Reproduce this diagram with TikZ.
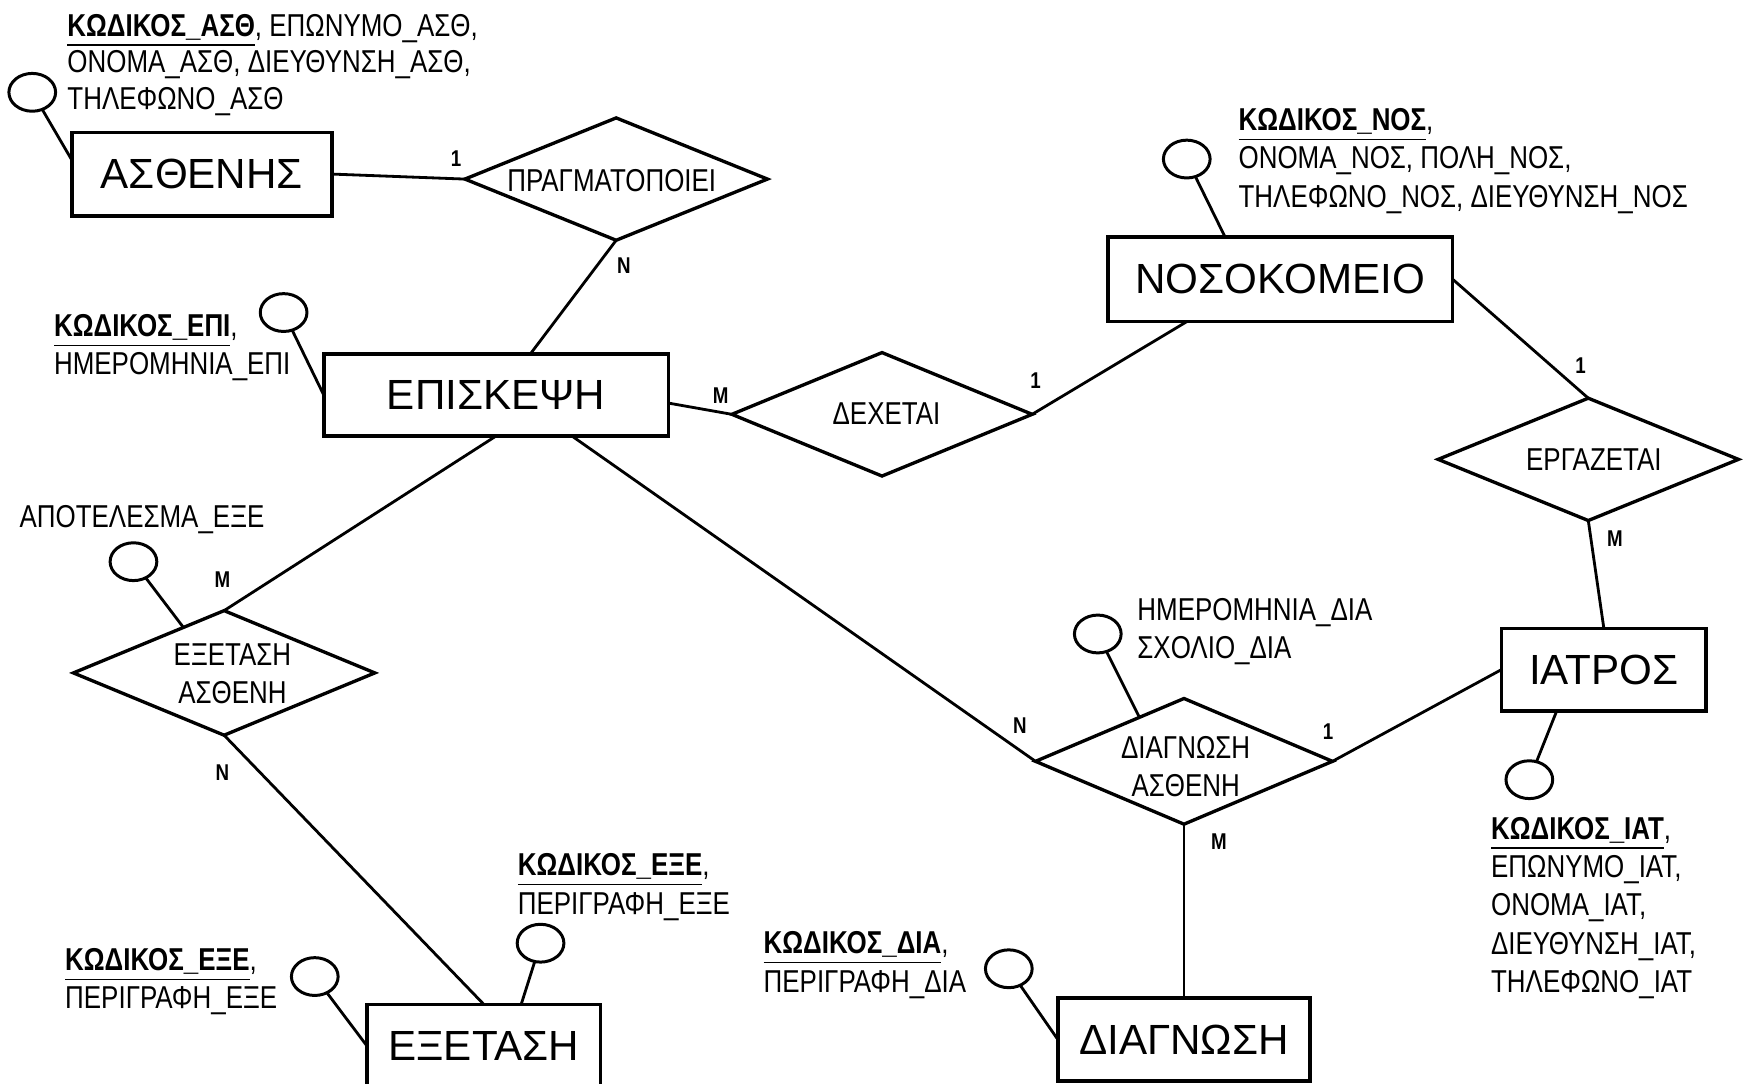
\documentclass[tikz,border=0pt]{standalone}
\usepackage{fontspec}
\setmainfont{Liberation Sans}
\newfontfamily\narrowfont[FakeStretch=0.82]{Liberation Sans}
\usetikzlibrary{shapes.geometric,calc}
% one drawing unit
\newcommand\pxu{0.31646pt}
\newcommand\keyattr[1]{\underline{\bfseries #1}}

\begin{document}
\begin{tikzpicture}[x=\pxu, y=-\pxu,
  entity/.style={draw, line width=1.05pt, rectangle, inner sep=0pt, outer sep=0pt,
    font=\fontsize{12}{14}\selectfont},
  relation/.style={draw, line width=0.95pt, diamond, inner sep=0pt, outer sep=0pt},
  attrib/.style={draw, line width=0.85pt, ellipse, inner sep=0pt, outer sep=0pt,
    minimum width=42*\pxu, minimum height=34*\pxu},
  link/.style={line width=0.8pt},
  attrtext/.style={anchor=north west, inner sep=0pt, align=left,
    font=\narrowfont\fontsize{9}{10.9}\selectfont},
  reltext/.style={inner sep=0pt, align=center,
    font=\narrowfont\fontsize{9}{10.9}\selectfont},
  card/.style={inner sep=0pt, font=\narrowfont\bfseries\fontsize{6.5}{7}\selectfont},
]
\useasboundingbox (0,0) rectangle (1568,974);
\clip (0,0) rectangle (1568,974);

% entities
\node[entity, minimum width=234*\pxu, minimum height=75*\pxu] (asth) at (181.5,156.5) {ΑΣΘΕΝΗΣ};
\node[entity, minimum width=310*\pxu, minimum height=74*\pxu] (episk) at (446,355) {ΕΠΙΣΚΕΨΗ};
\node[entity, minimum width=310*\pxu, minimum height=76*\pxu] (noso) at (1151,251) {ΝΟΣΟΚΟΜΕΙΟ};
\node[entity, minimum width=184*\pxu, minimum height=74*\pxu] (iatr) at (1442,602) {ΙΑΤΡΟΣ};
\node[entity, minimum width=227*\pxu, minimum height=75*\pxu] (diagn) at (1064.5,934.5) {ΔΙΑΓΝΩΣΗ};
\node[entity, minimum width=210*\pxu, minimum height=75*\pxu] (exet) at (435,940.5) {ΕΞΕΤΑΣΗ};

% relationships
\node[relation, minimum width=272*\pxu, minimum height=110*\pxu] (pragm) at (554,161) {};
\node[relation, minimum width=270*\pxu, minimum height=111*\pxu] (dex) at (793,372.5) {};
\node[relation, minimum width=270*\pxu, minimum height=110*\pxu] (erg) at (1428,413) {};
\node[relation, minimum width=271*\pxu, minimum height=112*\pxu] (exa) at (201.5,605) {};
\node[relation, minimum width=267*\pxu, minimum height=113*\pxu] (diag) at (1064.5,684.5) {};

\node[reltext] (tPragm) at (550,162) {ΠΡΑΓΜΑΤΟΠΟΙΕΙ};
\node[reltext] (tDex) at (797,372) {ΔΕΧΕΤΑΙ};
\node[reltext] (tErg) at (1433,413) {ΕΡΓΑΖΕΤΑΙ};
\node[reltext] (tExa) at (209,605.5) {ΕΞΕΤΑΣΗ\\ΑΣΘΕΝΗ};
\node[reltext] (tDiag) at (1066,689.5) {ΔΙΑΓΝΩΣΗ\\ΑΣΘΕΝΗ};

% attribute markers
\node[attrib] (aAsth) at (29,83) {};
\node[attrib] (aEpi) at (255,281) {};
\node[attrib] (aNoso) at (1067,143) {};
\node[attrib] (aIat) at (1375,701) {};
\node[attrib] (aDiagRel) at (987,570) {};
\node[attrib] (aDiagn) at (907,871) {};
\node[attrib] (aExa) at (120,505) {};
\node[attrib] (aExet1) at (283,878) {};
\node[attrib] (aExet2) at (486,848) {};

% attribute lists
\node[attrtext, font=\narrowfont\fontsize{9}{10.45}\selectfont] (tAsth) at (60,12) {\keyattr{ΚΩΔΙΚΟΣ\_ΑΣΘ}, ΕΠΩΝΥΜΟ\_ΑΣΘ,\\ΟΝΟΜΑ\_ΑΣΘ, ΔΙΕΥΘΥΝΣΗ\_ΑΣΘ,\\ΤΗΛΕΦΩΝΟ\_ΑΣΘ};
\node[attrtext] (tEpi) at (48,282) {\keyattr{ΚΩΔΙΚΟΣ\_ΕΠΙ},\\ΗΜΕΡΟΜΗΝΙΑ\_ΕΠΙ};
\node[attrtext] (tNoso) at (1113,97) {\keyattr{ΚΩΔΙΚΟΣ\_ΝΟΣ},\\ΟΝΟΜΑ\_ΝΟΣ, ΠΟΛΗ\_ΝΟΣ,\\ΤΗΛΕΦΩΝΟ\_ΝΟΣ, ΔΙΕΥΘΥΝΣΗ\_ΝΟΣ};
\node[attrtext] (tIat) at (1340,734) {\keyattr{ΚΩΔΙΚΟΣ\_ΙΑΤ},\\ΕΠΩΝΥΜΟ\_ΙΑΤ,\\ΟΝΟΜΑ\_ΙΑΤ,\\ΔΙΕΥΘΥΝΣΗ\_ΙΑΤ,\\ΤΗΛΕΦΩΝΟ\_ΙΑΤ};
\node[attrtext] (tDiagRel) at (1022,537) {ΗΜΕΡΟΜΗΝΙΑ\_ΔΙΑ\\ΣΧΟΛΙΟ\_ΔΙΑ};
\node[attrtext] (tDiagn) at (686,837) {\keyattr{ΚΩΔΙΚΟΣ\_ΔΙΑ},\\ΠΕΡΙΓΡΑΦΗ\_ΔΙΑ};
\node[attrtext] (tExa) at (17,454) {ΑΠΟΤΕΛΕΣΜΑ\_ΕΞΕ};
\node[attrtext] (tExet1) at (58,852) {\keyattr{ΚΩΔΙΚΟΣ\_ΕΞΕ},\\ΠΕΡΙΓΡΑΦΗ\_ΕΞΕ};
\node[attrtext] (tExet2) at (465,767) {\keyattr{ΚΩΔΙΚΟΣ\_ΕΞΕ},\\ΠΕΡΙΓΡΑΦΗ\_ΕΞΕ};

% connectors
\draw[link] (aAsth) -- ($(asth.north west)!0.33!(asth.south west)$);
\draw[link] (asth.east) -- (pragm.west);
\draw[link] (pragm.south) -- ($(episk.north west)!0.6!(episk.north east)$);
\draw[link] (aEpi) -- (episk.west);
\draw[link] ($(episk.north east)!0.6!(episk.south east)$) -- (dex.west);
\draw[link] (dex.east) -- ($(noso.south west)!0.23!(noso.south east)$);
\draw[link] (aNoso) -- ($(noso.north west)!0.34!(noso.north east)$);
\draw[link] (noso.east) -- (erg.north);
\draw[link] (erg.south) -- (iatr.north);
\draw[link] (aIat) -- ($(iatr.south west)!0.27!(iatr.south east)$);
\draw[link] (iatr.west) -- (diag.east);
\draw[link] ($(episk.south west)!0.72!(episk.south east)$) -- (diag.west);
\draw[link] (episk.south) -- (exa.north);
\draw[link] (aDiagRel) -- ($(diag.west)!0.7!(diag.north)$);
\draw[link] (diag.south) -- (diagn.north);
\draw[link] (aDiagn) -- (diagn.west);
\draw[link] (exa.south) -- (exet.north);
\draw[link] (aExa) -- ($(exa.west)!0.73!(exa.north)$);
\draw[link] (aExet1) -- (exet.west);
\draw[link] (aExet2) -- ($(exet.north west)!0.66!(exet.north east)$);

% cardinalities
\node[card] (c1) at (410,143) {1};
\node[card] (c2) at (561,239) {N};
\node[card] (c3) at (648,356) {M};
\node[card] (c4) at (931,342) {1};
\node[card] (c5) at (1421,329) {1};
\node[card] (c6) at (1452,484) {M};
\node[card] (c7) at (200,521) {M};
\node[card] (c8) at (200,695) {N};
\node[card] (c9) at (917,652) {N};
\node[card] (c10) at (1194,658) {1};
\node[card] (c11) at (1096,757) {M};
\end{tikzpicture}
\end{document}
